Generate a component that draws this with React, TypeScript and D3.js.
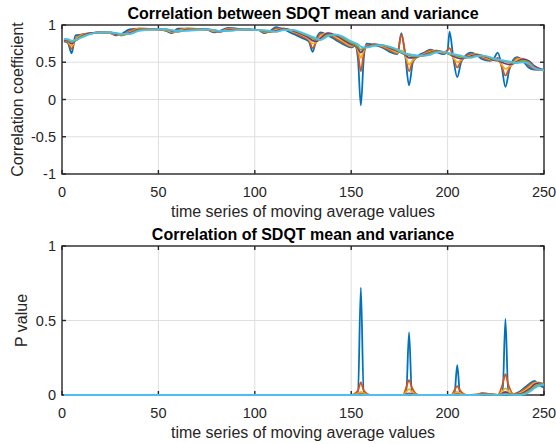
import React from 'react';
import * as d3 from 'd3';

// moving-average index where the curves are sampled
const xs = [1, 3, 5, 7, 10, 15, 20, 25, 28, 31,
  35, 40, 50, 54, 57, 60, 65, 75, 79, 82,
  86, 95, 102, 105, 108, 111, 115, 120, 125, 128,
  130, 132, 134, 138, 142, 146, 150, 152, 153.5, 155,
  156.5, 158, 162, 166, 170, 174, 176, 178, 180, 182,
  185, 188, 191, 194, 198, 200, 201, 203, 205, 207,
  209, 212, 215, 218, 222, 224, 226, 228, 230, 232,
  234, 236, 239, 242, 245, 250];

const corr1 = [0.78, 0.76, 0.62, 0.86, 0.87, 0.89, 0.90, 0.89, 0.86, 0.88,
  0.94, 0.95, 0.94, 0.92, 0.89, 0.95, 0.95, 0.94, 0.90, 0.92,
  0.96, 0.94, 0.93, 0.89, 0.92, 0.97, 0.94, 0.88, 0.82, 0.78,
  0.64, 0.82, 0.90, 0.86, 0.80, 0.74, 0.70, 0.72, 0.55, -0.08,
  0.55, 0.75, 0.73, 0.70, 0.64, 0.61, 0.89, 0.60, 0.19, 0.50,
  0.59, 0.63, 0.67, 0.64, 0.61, 0.66, 0.91, 0.55, 0.30, 0.50,
  0.58, 0.63, 0.60, 0.54, 0.52, 0.55, 0.63, 0.45, 0.17, 0.40,
  0.53, 0.57, 0.52, 0.43, 0.40, 0.40];
const corr2 = [0.79, 0.77, 0.68, 0.82, 0.87, 0.89, 0.90, 0.89, 0.87, 0.86,
  0.92, 0.95, 0.94, 0.93, 0.90, 0.93, 0.95, 0.94, 0.91, 0.91,
  0.95, 0.94, 0.93, 0.90, 0.91, 0.95, 0.95, 0.90, 0.84, 0.80,
  0.69, 0.78, 0.88, 0.88, 0.82, 0.76, 0.71, 0.73, 0.62, 0.38,
  0.62, 0.73, 0.74, 0.71, 0.66, 0.62, 0.87, 0.62, 0.38, 0.52,
  0.58, 0.62, 0.66, 0.65, 0.62, 0.67, 0.69, 0.56, 0.43, 0.52,
  0.57, 0.61, 0.61, 0.56, 0.53, 0.53, 0.56, 0.45, 0.32, 0.42,
  0.50, 0.56, 0.54, 0.46, 0.41, 0.39];
const corr3 = [0.80, 0.78, 0.72, 0.80, 0.86, 0.89, 0.90, 0.89, 0.88, 0.86,
  0.90, 0.95, 0.94, 0.93, 0.91, 0.92, 0.95, 0.94, 0.92, 0.91,
  0.94, 0.94, 0.93, 0.91, 0.91, 0.93, 0.95, 0.91, 0.86, 0.81,
  0.75, 0.77, 0.85, 0.89, 0.84, 0.78, 0.72, 0.73, 0.67, 0.56,
  0.66, 0.72, 0.74, 0.72, 0.68, 0.63, 0.66, 0.60, 0.47, 0.53,
  0.58, 0.61, 0.64, 0.66, 0.63, 0.63, 0.62, 0.56, 0.50, 0.53,
  0.56, 0.59, 0.61, 0.58, 0.54, 0.53, 0.53, 0.47, 0.41, 0.44,
  0.48, 0.54, 0.55, 0.50, 0.43, 0.39];
const corr4 = [0.80, 0.79, 0.75, 0.79, 0.85, 0.89, 0.90, 0.90, 0.88, 0.87,
  0.89, 0.94, 0.94, 0.94, 0.92, 0.91, 0.94, 0.94, 0.93, 0.91,
  0.93, 0.94, 0.93, 0.92, 0.91, 0.92, 0.95, 0.92, 0.87, 0.83,
  0.79, 0.78, 0.82, 0.89, 0.86, 0.80, 0.74, 0.73, 0.69, 0.63,
  0.68, 0.71, 0.74, 0.73, 0.69, 0.65, 0.63, 0.60, 0.56, 0.56,
  0.58, 0.60, 0.63, 0.65, 0.64, 0.62, 0.61, 0.58, 0.56, 0.55,
  0.56, 0.58, 0.60, 0.59, 0.55, 0.53, 0.52, 0.50, 0.48, 0.47,
  0.48, 0.51, 0.54, 0.52, 0.45, 0.39];
const corr5 = [0.81, 0.80, 0.77, 0.79, 0.84, 0.88, 0.90, 0.90, 0.89, 0.87,
  0.88, 0.93, 0.94, 0.94, 0.93, 0.91, 0.93, 0.94, 0.93, 0.92,
  0.92, 0.94, 0.93, 0.92, 0.91, 0.91, 0.94, 0.93, 0.88, 0.85,
  0.82, 0.80, 0.80, 0.87, 0.87, 0.82, 0.76, 0.74, 0.71, 0.67,
  0.69, 0.70, 0.73, 0.73, 0.70, 0.66, 0.63, 0.61, 0.59, 0.58,
  0.58, 0.59, 0.62, 0.64, 0.64, 0.62, 0.61, 0.60, 0.58, 0.57,
  0.56, 0.57, 0.59, 0.59, 0.56, 0.54, 0.53, 0.52, 0.51, 0.50,
  0.49, 0.50, 0.52, 0.50, 0.43, 0.39];
const corr6 = [0.81, 0.81, 0.79, 0.80, 0.83, 0.88, 0.90, 0.90, 0.89, 0.88,
  0.88, 0.92, 0.94, 0.94, 0.93, 0.92, 0.92, 0.94, 0.93, 0.92,
  0.92, 0.94, 0.93, 0.93, 0.92, 0.91, 0.93, 0.93, 0.89, 0.86,
  0.84, 0.82, 0.80, 0.85, 0.87, 0.84, 0.78, 0.76, 0.74, 0.71,
  0.70, 0.70, 0.72, 0.73, 0.71, 0.67, 0.64, 0.62, 0.61, 0.60,
  0.59, 0.59, 0.60, 0.63, 0.64, 0.63, 0.62, 0.61, 0.60, 0.59,
  0.57, 0.56, 0.58, 0.59, 0.57, 0.55, 0.54, 0.53, 0.52, 0.51,
  0.50, 0.49, 0.50, 0.48, 0.42, 0.39];

// p values, sampled more sparsely
const pX = [1, 150, 153.5, 155, 156.5, 160, 177, 178.5, 180, 181.5, 185,
  202, 203.5, 205, 206.5, 210, 215, 218, 222, 226,
  228.5, 230, 231.5, 234, 237, 240, 243, 245, 247, 250];
const p1 = [0, 0, 0, 0.72, 0, 0, 0, 0, 0.42, 0, 0, 0, 0, 0.2, 0, 0, 0.003, 0.01, 0.005, 0,
  0, 0.51, 0, 0.005, 0.02, 0.05, 0.08, 0.095, 0.07, 0.05];
const p2 = [0, 0, 0.03, 0.085, 0.03, 0, 0, 0.05, 0.1, 0.05, 0, 0, 0.03, 0.06, 0.03, 0, 0.003, 0.012, 0.006, 0.001,
  0.07, 0.14, 0.07, 0.008, 0.015, 0.04, 0.07, 0.085, 0.08, 0.06];
const p3 = [0, 0, 0.01, 0.02, 0.01, 0, 0, 0.02, 0.04, 0.02, 0, 0, 0.01, 0.02, 0.01, 0, 0.002, 0.008, 0.005, 0.001,
  0.025, 0.045, 0.025, 0.005, 0.01, 0.03, 0.06, 0.08, 0.085, 0.07];
const p4 = [0, 0, 0.002, 0.005, 0.002, 0, 0, 0.005, 0.01, 0.005, 0, 0, 0.002, 0.005, 0.002, 0, 0.001, 0.005, 0.004, 0.001,
  0.01, 0.02, 0.01, 0.003, 0.005, 0.02, 0.045, 0.07, 0.08, 0.075];
const p5 = [0, 0, 0, 0.002, 0, 0, 0, 0.002, 0.004, 0.002, 0, 0, 0, 0.002, 0, 0, 0, 0.003, 0.003, 0.001,
  0.004, 0.008, 0.005, 0.002, 0.002, 0.012, 0.035, 0.055, 0.07, 0.075];
const p6 = [0, 0, 0, 0.001, 0, 0, 0, 0, 0.002, 0, 0, 0, 0, 0.001, 0, 0, 0, 0.002, 0.002, 0.001,
  0.002, 0.003, 0.002, 0.001, 0, 0.005, 0.025, 0.045, 0.06, 0.07];

const colors = ['#0072BD', '#D95319', '#EDB120', '#7E2F8E', '#77AC30', '#4DBEEE'];
const xTicks = [0, 50, 100, 150, 200, 250];
const corrTicks = [-1, -0.5, 0, 0.5, 1];
const pTicks = [0, 0.5, 1];

const FONT = '"Liberation Sans", Arial, Helvetica, sans-serif';
const AX = '#262626';

type PanelProps = {
  top: number;
  bottom: number;
  xVals: number[];
  series: number[][];
  yDomain: [number, number];
  yTicks: number[];
  title: string;
  yLabel: string;
  yLabelX: number;
};

const left = 62;
const right = 544;

const Panel = ({ top, bottom, xVals, series, yDomain, yTicks, title, yLabel, yLabelX }: PanelProps) => {
  const x = d3.scaleLinear().domain([0, 250]).range([left, right]);
  const y = d3.scaleLinear().domain(yDomain).range([bottom, top]);
  const line = d3.line<number>()
    .x((_, i) => x(xVals[i]))
    .y((d) => y(d))
    .curve(d3.curveMonotoneX);
  const tk = 4;

  return (
    <g>
      {/* grid */}
      {xTicks.slice(1, -1).map((t) => (
        <line key={'gx' + t} x1={x(t)} x2={x(t)} y1={top} y2={bottom} stroke="#dfdfdf" strokeWidth={1} />
      ))}
      {yTicks.slice(1, -1).map((t) => (
        <line key={'gy' + t} x1={left} x2={right} y1={y(t)} y2={y(t)} stroke="#dfdfdf" strokeWidth={1} />
      ))}
      {/* box */}
      <rect x={left} y={top} width={right - left} height={bottom - top} fill="none" stroke={AX} strokeWidth={1.4} />
      {xTicks.map((t) => (
        <g key={'tx' + t}>
          <line x1={x(t)} x2={x(t)} y1={bottom} y2={bottom - tk} stroke={AX} strokeWidth={1.4} />
          <line x1={x(t)} x2={x(t)} y1={top} y2={top + tk} stroke={AX} strokeWidth={1.4} />
          <text x={x(t)} y={bottom + 23} textAnchor="middle" fontSize={14.5} fill={AX} fontFamily={FONT}>{t}</text>
        </g>
      ))}
      {yTicks.map((t) => (
        <g key={'ty' + t}>
          <line x1={left} x2={left + tk} y1={y(t)} y2={y(t)} stroke={AX} strokeWidth={1.4} />
          <line x1={right} x2={right - tk} y1={y(t)} y2={y(t)} stroke={AX} strokeWidth={1.4} />
          <text x={left - 6} y={y(t) + 5} textAnchor="end" fontSize={14.5} fill={AX} fontFamily={FONT}>{t}</text>
        </g>
      ))}
      {/* data */}
      {series.map((s, i) => (
        <path key={'s' + i} d={line(s) || ''} fill="none" stroke={colors[i]} strokeWidth={1.8} strokeLinejoin="round" />
      ))}
      <text x={(left + right) / 2} y={top - 6} textAnchor="middle" fontSize={16} fontWeight="bold" fill="#000" fontFamily={FONT}>{title}</text>
      <text x={(left + right) / 2} y={bottom + 43} textAnchor="middle" fontSize={16} fill={AX} fontFamily={FONT}>time series of moving average values</text>
      <text transform={`translate(${yLabelX},${(top + bottom) / 2}) rotate(-90)`} textAnchor="middle" dy="0.35em" fontSize={16} fill={AX} fontFamily={FONT}>{yLabel}</text>
    </g>
  );
};

export default function App() {
  return (
    <svg width={556} height={444} style={{ position: 'absolute', left: 0, top: 0, background: '#fff' }}>
      <rect width={556} height={444} fill="#fff" />
      <Panel top={25} bottom={174} xVals={xs} series={[corr1, corr2, corr3, corr4, corr5, corr6]}
        yDomain={[-1, 1]} yTicks={corrTicks} title="Correlation between SDQT mean and variance"
        yLabel="Correlation coefficient" yLabelX={17} />
      <Panel top={246} bottom={395} xVals={pX} series={[p1, p2, p3, p4, p5, p6]}
        yDomain={[0, 1]} yTicks={pTicks} title="Correlation of SDQT mean and variance"
        yLabel="P value" yLabelX={21} />
    </svg>
  );
}
